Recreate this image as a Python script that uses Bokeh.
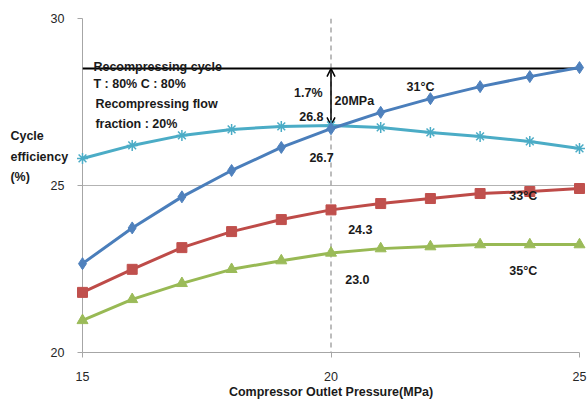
from bokeh.plotting import figure
from bokeh.models import Range1d, Span, Label, Arrow, OpenHead, FixedTicker
from bokeh.core.properties import value
from bokeh.embed import file_html
from bokeh.resources import INLINE

# ---- data ----
pressure = [15, 16, 17, 18, 19, 20, 21, 22, 23, 24, 25]
eff_31 = [22.66, 23.73, 24.66, 25.45, 26.14, 26.70, 27.19, 27.60, 27.96, 28.26, 28.53]
eff_33 = [21.80, 22.49, 23.14, 23.62, 23.98, 24.27, 24.46, 24.61, 24.76, 24.82, 24.91]
eff_35 = [20.96, 21.59, 22.07, 22.49, 22.75, 22.98, 23.11, 23.17, 23.23, 23.23, 23.23]
eff_cyan = [25.81, 26.20, 26.50, 26.68, 26.77, 26.80, 26.74, 26.59, 26.47, 26.32, 26.11]
recomp_cycle_eff = 28.5
ref_pressure = 20
x_ticks = [15, 20, 25]
y_ticks = [20, 25, 30]
y_title_lines = ["Cycle", "efficiency", "(%)"]

FONT = "Liberation Sans"
ANN_SIZE = "12.5px"

p = figure(width=587, height=403, output_backend="svg", toolbar_location=None,
           x_range=Range1d(15, 25), y_range=Range1d(20, 30),
           min_border_left=82, min_border_right=8, min_border_top=18, min_border_bottom=51)
p.outline_line_color = None
p.background_fill_color = "white"
p.border_fill_color = "white"

p.xgrid.visible = False
p.ygrid.grid_line_color = "#B3B3B3"
p.ygrid.grid_line_width = 1
p.ygrid.ticker = FixedTicker(ticks=y_ticks)

for ax in (p.xaxis[0], p.yaxis[0]):
    ax.axis_line_color = "#A6A6A6"
    ax.major_tick_line_color = "#A6A6A6"
    ax.major_tick_out = 5
    ax.major_tick_in = 0
    ax.minor_tick_line_color = None
    ax.major_label_text_font = FONT
    ax.major_label_text_font_size = "12.5px"
    ax.major_label_text_color = "#262626"

p.xaxis.ticker = FixedTicker(ticks=x_ticks)
p.yaxis.ticker = FixedTicker(ticks=y_ticks)
p.xaxis.major_label_standoff = 14
p.yaxis.major_label_standoff = 13
p.xaxis.axis_label = "Compressor Outlet Pressure(MPa)"
p.xaxis.axis_label_text_font = FONT
p.xaxis.axis_label_text_font_size = ANN_SIZE
p.xaxis.axis_label_text_font_style = "bold"
p.xaxis.axis_label_text_color = "#1a1a1a"
p.xaxis.axis_label_standoff = 1

# reference lines
p.add_layout(Span(location=ref_pressure, dimension="height", line_color="#A6A6A6",
                  line_dash="5 4", line_width=1.5))
p.add_layout(Span(location=recomp_cycle_eff, dimension="width", line_color="black",
                  line_width=2))

# series
series = [
    (eff_cyan, "#4BACC6", "#4BACC6", "asterisk", 11),
    (eff_31, "#4A7EBB", "#4F81BD", "diamond", 12),
    (eff_33, "#BE4B48", "#C0504D", "square", 10),
    (eff_35, "#98B954", "#9BBB59", "triangle", 11),
]
for ys, lc, mc, mk, sz in series:
    r1 = p.line(pressure, ys, line_color=lc, line_width=3)
    r2 = p.scatter(pressure, ys, marker=mk, size=sz, fill_color=mc, line_color=mc,
                   line_width=1.5 if mk == "asterisk" else 1)
    r1.level = "overlay"
    r2.level = "overlay"

# arrow
p.add_layout(Arrow(x_start=ref_pressure, y_start=eff_cyan[5], x_end=ref_pressure,
                   y_end=recomp_cycle_eff, line_color="black", line_width=1.5,
                   start=OpenHead(size=8, line_color="black", line_width=1.5),
                   end=OpenHead(size=8, line_color="black", line_width=1.5)))


def lab(x, y, text, align="left", baseline="middle", yoff=0):
    p.add_layout(Label(x=x, y=y, text=text, text_align=align, text_baseline=baseline,
                       text_font=FONT, text_font_size=ANN_SIZE, text_font_style="bold",
                       text_color="#1a1a1a", y_offset=yoff, level="overlay"))


lab(15.22, recomp_cycle_eff, "Recompressing cycle", baseline="alphabetic", yoff=2)
lab(15.22, 28.05, "T : 80% C : 80%")
lab(15.26, 27.43, "Recompressing flow")
lab(15.26, 26.83, "fraction : 20%")
lab(19.83, 27.78, "1.7%", align="right")
lab(20.07, 27.54, "20MPa")
lab(19.85, 27.07, "26.8", align="right")
lab(19.81, 25.84, "26.7", align="center")
lab(21.80, 27.96, "31°C", align="center")
lab(23.87, 24.70, "33°C", align="center")
lab(20.59, 23.68, "24.3", align="center")
lab(20.53, 22.19, "23.0", align="center")
lab(23.87, 22.43, "35°C", align="center")

# y-axis title (horizontal, three lines) drawn in the left border
yt = p.text(x=[13.55] * 3, y=[26.47, 25.84, 25.24], text=y_title_lines,
            text_font=value(FONT), text_font_size=value(ANN_SIZE),
            text_font_style="bold", text_color="#1a1a1a",
            text_align="left", text_baseline="middle")
yt.level = "overlay"

open("out.html", "w").write(file_html(p, INLINE))
